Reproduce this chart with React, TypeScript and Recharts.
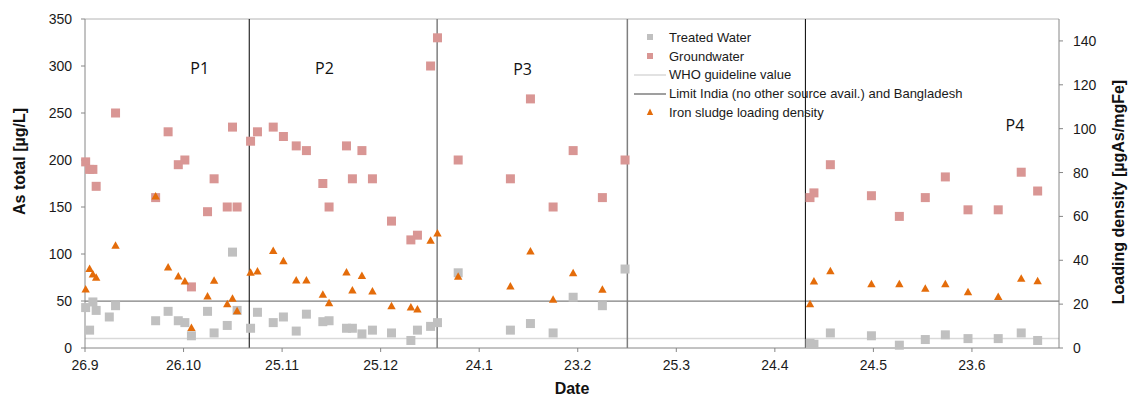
import { ScatterChart, Scatter, XAxis, YAxis, ReferenceLine, ReferenceDot, Legend, Label } from 'recharts';

// sampling days, counted from 26.9 (day 0)
const sampleDays = [
  0.2, 1.4, 2.4, 3.4, 7.4, 9.3, 21.5, 25.3, 28.4, 30.4, 32.4, 37.3, 39.3, 43.3, 44.9, 46.3,
  50.4, 52.5, 57.3, 60.4, 64.3, 67.4, 72.4, 74.3, 79.6, 81.4, 84.3, 87.5, 93.3,
  99.2, 101.2, 105.2, 107.3, 113.6, 129.5, 135.6, 142.5, 148.6, 157.5, 164.4,
  220.7, 221.9, 226.9, 239.4, 247.9, 255.8, 261.9, 268.8, 278, 285, 290,
];

// As total [µg/L]
const groundwater = [
  198, 190, 190, 172, null, 250, 160, 230, 195, 200, 65, 145, 180, 150, 235, 150,
  220, 230, 235, 225, 215, 210, 175, 150, 215, 180, 210, 180, 135,
  115, 120, 300, 330, 200, 180, 265, 150, 210, 160, 200,
  160, 165, 195, 162, 140, 160, 182, 147, 147, 187, 167,
];

const treatedWater = [
  43, 19, 49, 40, 33, 45, 29, 39, 29, 27, 13, 39, 16, 24, 102, 40,
  21, 38, 27, 33, 18, 36, 28, 29, 21, 21, 15, 19, 16,
  8, 19, 23, 27, 80, 19, 26, 16, 54, 45, 84,
  5, 4, 16, 13, 3, 9, 14, 10, 10, 16, 8,
];

// Loading density [µgAs/mgFe]
const loadingDensity = [
  26.9, 36.3, 33.7, 32.2, null, 46.8, 69.3, 36.9, 32.8, 30.5, 9.4, 23.7, 30.9, 20.2, 22.7, 17.0,
  34.5, 35.1, 44.5, 39.8, 31.0, 31.0, 24.5, 20.6, 34.6, 26.4, 33.0, 26.0, 19.3,
  18.7, 17.8, 49.1, 52.4, 32.7, 28.3, 44.2, 22.2, 34.3, 26.8, null,
  20.2, 30.5, 35.2, 29.3, 29.3, 27.2, 29.3, 25.7, 23.5, 31.8, 30.7,
];

const dateTicks = [0, 30, 60, 90, 120, 150, 180, 210, 240, 270];
const dateTickLabels = ['26.9', '26.10', '25.11', '25.12', '24.1', '23.2', '25.3', '24.4', '24.5', '23.6'];

const phaseStarts = [50, 107.2, 165.1, 219.3];
const phaseNames = ['P1', 'P2', 'P3', 'P4'];

const WHO_GUIDELINE = 10;
const INDIA_LIMIT = 50;

const GROUND_COLOR = '#d99694';
const TREATED_COLOR = '#c0c0c0';
const SLUDGE_COLOR = '#e46c0a';
const AXIS_COLOR = '#868686';

const toPoints = (values: (number | null)[]) =>
  sampleDays
    .map((day, i) => ({ day, value: values[i] }))
    .filter((p) => p.value !== null);

const groundData = toPoints(groundwater);
const treatedData = toPoints(treatedWater);
const sludgeData = toPoints(loadingDensity);

// where the phase names sit (day, µg/L)
const phaseLabelSpots = [
  { day: 34.9, value: 298 },
  { day: 72.9, value: 298 },
  { day: 133.2, value: 296 },
  { day: 283.1, value: 237 },
];
const phaseLineColors = ['#000000', '#7f7f7f', '#7f7f7f', '#000000'];

const squareShape = (color: string) => (props: any) => (
  <rect x={props.cx - 4.5} y={props.cy - 4.5} width={9} height={9} fill={color} />
);

const triangleShape = (props: any) => {
  const { cx, cy } = props;
  return <polygon points={`${cx},${cy - 4} ${cx - 4.2},${cy + 3.5} ${cx + 4.2},${cy + 3.5}`} fill={SLUDGE_COLOR} />;
};

const legendRows = [
  { name: 'Treated Water', kind: 'square', color: TREATED_COLOR },
  { name: 'Groundwater', kind: 'square', color: GROUND_COLOR },
  { name: 'WHO guideline value', kind: 'line', color: '#d9d9d9' },
  { name: 'Limit India (no other source avail.) and Bangladesh', kind: 'line', color: '#7f7f7f' },
  { name: 'Iron sludge loading density', kind: 'triangle', color: SLUDGE_COLOR },
];

const renderLegend = () => (
  <div style={{ fontSize: 13, color: '#1a1a1a' }}>
    {legendRows.map((row) => (
      <div key={row.name} style={{ display: 'flex', alignItems: 'center', height: 18.75, whiteSpace: 'nowrap' }}>
        <svg width={32} height={10} style={{ marginRight: 3, flex: 'none' }}>
          {row.kind === 'square' && <rect x={13} y={2} width={6} height={6} fill={row.color} />}
          {row.kind === 'line' && <line x1={0} x2={32} y1={5} y2={5} stroke={row.color} strokeWidth={1.5} />}
          {row.kind === 'triangle' && <polygon points="16,1.5 12.8,8 19.2,8" fill={row.color} />}
        </svg>
        <span>{row.name}</span>
      </div>
    ))}
  </div>
);

const axisTitle = (text: string, dx: number, dy: number, angle: number) => (props: any) => {
  const vb = props.viewBox || { x: 0, y: 19, width: 85, height: 329 };
  const x = vb.x + dx;
  const y = vb.y + vb.height / 2 + dy;
  return (
    <text
      x={x}
      y={y}
      transform={angle ? `rotate(${angle} ${x} ${y})` : undefined}
      textAnchor="middle"
      dominantBaseline="central"
      fontSize={16}
      fontWeight="bold"
      fill="#111"
    >
      {text}
    </text>
  );
};

export default function App() {
  return (
    <div
      style={{
        position: 'absolute',
        left: 0,
        top: 0,
        width: 1129,
        height: 395,
        background: '#fff',
        fontFamily: '"Liberation Sans", Arial, sans-serif',
      }}
    >
      <ScatterChart width={1129} height={395} margin={{ top: 19, right: 0, bottom: 0, left: 0 }}>
        <XAxis
          type="number"
          dataKey="day"
          domain={[0, 296.5]}
          ticks={dateTicks}
          interval={0}
          tickFormatter={(v: number) => dateTickLabels[dateTicks.indexOf(v)] ?? ''}
          height={47}
          tickSize={4}
          tickMargin={8}
          stroke={AXIS_COLOR}
          tick={{ fill: '#1a1a1a', fontSize: 14 }}
        >
          <Label content={(p: any) => {
            const vb = p.viewBox || { x: 85, y: 348, width: 974, height: 47 };
            return (
              <text x={vb.x + vb.width / 2} y={393.5} textAnchor="middle" fontSize={16} fontWeight="bold" fill="#111">
                Date
              </text>
            );
          }} />
        </XAxis>
        <YAxis
          yAxisId="left"
          type="number"
          dataKey="value"
          domain={[0, 350]}
          ticks={[0, 50, 100, 150, 200, 250, 300, 350]}
          width={85}
          tickSize={4}
          tickMargin={9}
          stroke={AXIS_COLOR}
          tick={{ fill: '#1a1a1a', fontSize: 14 }}
        >
          <Label content={axisTitle('As total [µg/L]', 19, -22, -90)} />
        </YAxis>
        <YAxis
          yAxisId="right"
          orientation="right"
          type="number"
          dataKey="value"
          domain={[0, 150]}
          ticks={[0, 20, 40, 60, 80, 100, 120, 140]}
          width={70}
          tickSize={4}
          tickMargin={10}
          stroke={AXIS_COLOR}
          tick={{ fill: '#1a1a1a', fontSize: 14, textAnchor: 'start' }}
        >
          <Label content={axisTitle('Loading density [µgAs/mgFe]', 59.5, 8.5, -90)} />
        </YAxis>

        <ReferenceLine yAxisId="left" y={350} stroke="#b4b4b4" strokeWidth={1} />
        <ReferenceLine yAxisId="left" y={WHO_GUIDELINE} stroke="#d9d9d9" strokeWidth={1.5} />
        <ReferenceLine yAxisId="left" y={INDIA_LIMIT} stroke="#7f7f7f" strokeWidth={1.25} />
        {phaseStarts.map((day, i) => (
          <ReferenceLine key={day} yAxisId="left" x={day} stroke={phaseLineColors[i]} strokeWidth={i === 0 || i === 3 ? 1 : 1.5} />
        ))}
        {phaseNames.map((name, i) => (
          <ReferenceDot
            key={name}
            yAxisId="left"
            x={phaseLabelSpots[i].day}
            y={phaseLabelSpots[i].value}
            r={0}
            fill="none"
            stroke="none"
            label={{ value: name, position: 'center', fill: '#111', fontSize: 16, fontFamily: '"Open Sans", sans-serif' }}
          />
        ))}

        <Scatter name="Treated Water" yAxisId="left" data={treatedData} shape={squareShape(TREATED_COLOR)} isAnimationActive={false} />
        <Scatter name="Groundwater" yAxisId="left" data={groundData} shape={squareShape(GROUND_COLOR)} isAnimationActive={false} />
        <Scatter name="Iron sludge loading density" yAxisId="right" data={sludgeData} shape={triangleShape} isAnimationActive={false} />

        <Legend
          layout="vertical"
          align="center"
          verticalAlign="middle"
          content={renderLegend}
          wrapperStyle={{ left: 634, top: 28, width: 360, height: 96 }}
        />
      </ScatterChart>
    </div>
  );
}
